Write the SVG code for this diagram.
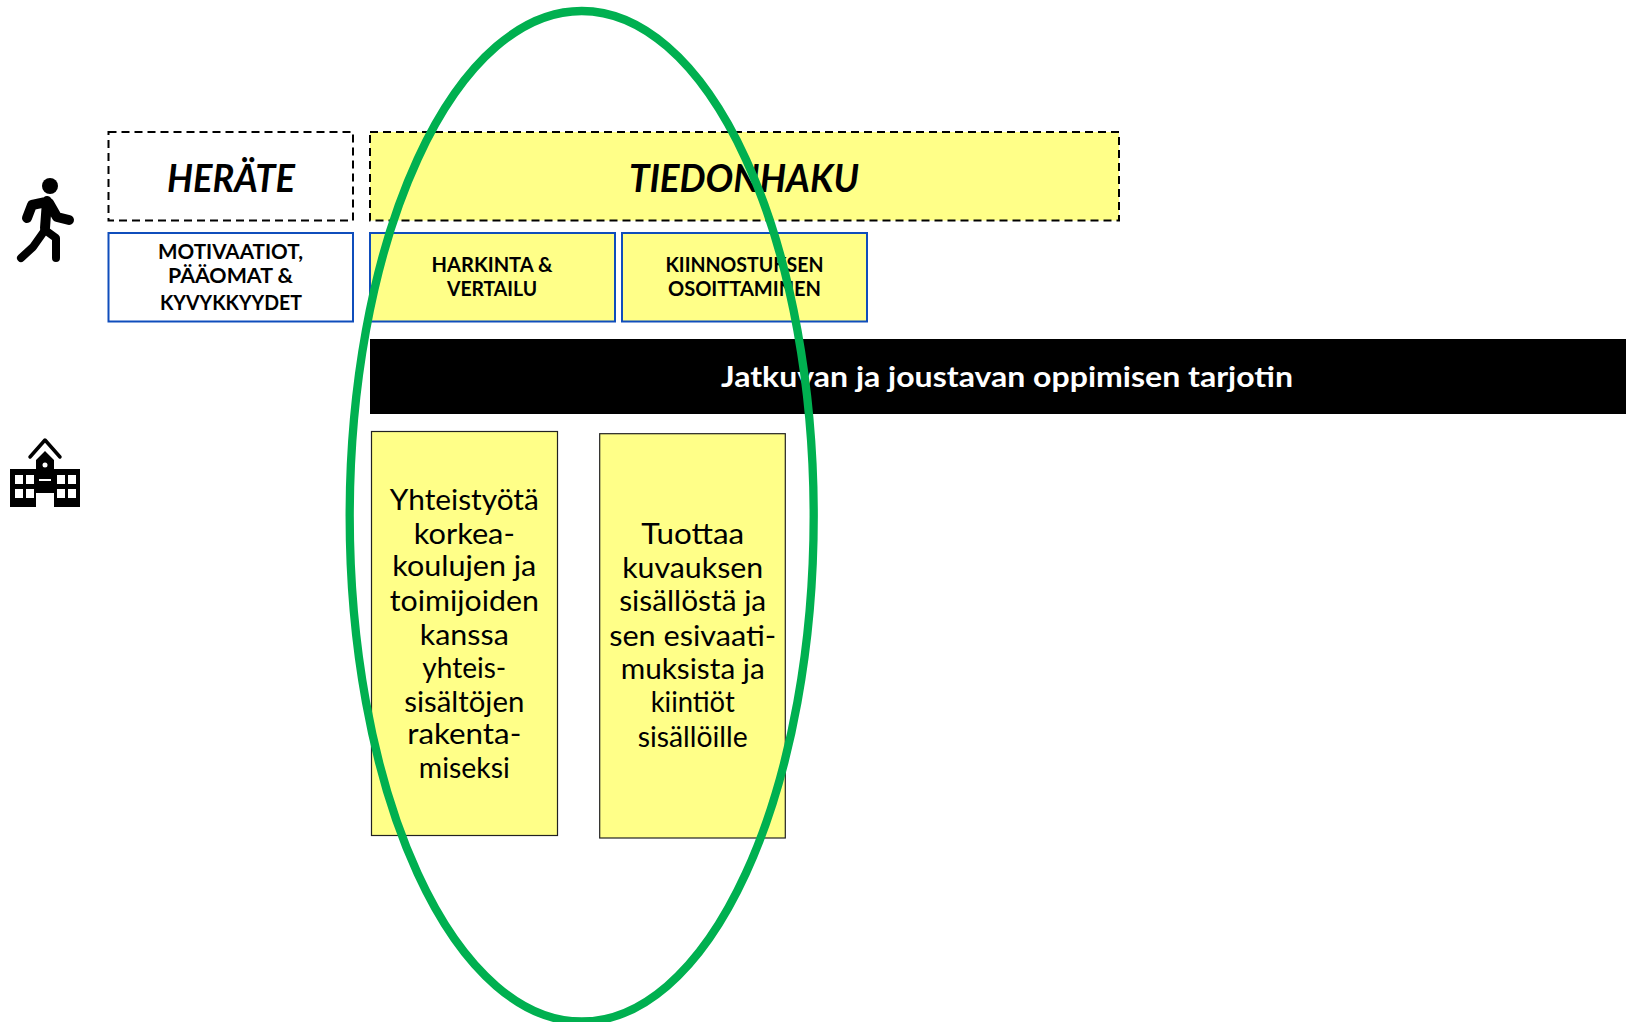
<svg xmlns="http://www.w3.org/2000/svg" width="1626" height="1022" viewBox="0 0 1626 1022">
<style>
text{font-family:Lato,"Open Sans","Liberation Sans",sans-serif;fill:#000;text-anchor:middle}
.y{fill:#FFFF88}
.dash{stroke:#000;stroke-width:2;stroke-dasharray:8 5}
.blue{stroke:#0F4DBC;stroke-width:2}
.note{stroke:#222;stroke-width:1.2}
.h{font-size:38px;font-weight:700;font-style:italic}
.s{font-size:21px;font-weight:700}
.b{font-size:29px}
.ico{fill:none;stroke:#000;stroke-linecap:round;stroke-linejoin:round}
</style>
<rect width="1626" height="1022" fill="#fff"/>
<g id="icon-person">
<circle cx="50" cy="186" r="8"/>
<path class="ico" stroke-width="10" d="M47 201L45 228M46 202L32 205L27 218M49 203L57 217L69 220"/>
<path class="ico" stroke-width="8" d="M45 230L33 247L21 258M45 230L56 238L56 258"/>
</g>
<g id="icon-school">
<path class="ico" stroke-width="3.5" d="M30 457L45 440L60 457"/>
<path d="M10 469H36V460L45 451L54 460V469H80V507H54V493H36V507H10Z"/>
<g fill="#fff">
<circle cx="45" cy="465" r="2.5"/>
<rect x="15" y="475" width="8" height="9"/><rect x="26" y="475" width="8" height="9"/>
<rect x="15" y="489" width="8" height="9"/><rect x="26" y="489" width="8" height="9"/>
<rect x="57" y="475" width="8" height="9"/><rect x="68" y="475" width="8" height="9"/>
<rect x="57" y="489" width="8" height="9"/><rect x="68" y="489" width="8" height="9"/>
<rect x="39" y="479" width="12" height="2"/>
</g>
</g>
<g id="herate">
<rect x="108.5" y="132" width="244.5" height="88.5" fill="#fff" class="dash"/>
<text class="h" x="231" y="192" textLength="128" lengthAdjust="spacingAndGlyphs">HERÄTE</text>
</g>
<g id="tiedonhaku">
<rect x="370" y="132" width="749" height="88.5" class="y dash"/>
<text class="h" x="744" y="192" textLength="230" lengthAdjust="spacingAndGlyphs">TIEDONHAKU</text>
</g>
<g id="motivaatiot">
<rect x="108.5" y="233" width="244.5" height="88.500" fill="#fff" class="blue"/>
<text class="s" x="230.500" y="259" textLength="145" lengthAdjust="spacingAndGlyphs">MOTIVAATIOT,</text>
<text class="s" x="230.500" y="283" textLength="125" lengthAdjust="spacingAndGlyphs">PÄÄOMAT &amp;</text>
<text class="s" x="231" y="310" textLength="142" lengthAdjust="spacingAndGlyphs">KYVYKKYYDET</text>
</g>
<g id="harkinta">
<rect x="370" y="233" width="245" height="88.500" class="y blue"/>
<text class="s" x="492" y="272" textLength="121" lengthAdjust="spacingAndGlyphs">HARKINTA &amp;</text>
<text class="s" x="492" y="296" textLength="90" lengthAdjust="spacingAndGlyphs">VERTAILU</text>
</g>
<g id="kiinnostuksen">
<rect x="622" y="233" width="245" height="88.500" class="y blue"/>
<text class="s" x="744.500" y="272" textLength="158" lengthAdjust="spacingAndGlyphs">KIINNOSTUKSEN</text>
<text class="s" x="744.500" y="296" textLength="153" lengthAdjust="spacingAndGlyphs">OSOITTAMINEN</text>
</g>
<g id="tarjotin">
<rect x="370" y="339" width="1256" height="75"/>
<text x="1007" y="387" font-size="28" font-weight="700" style="fill:#fff" textLength="572" lengthAdjust="spacingAndGlyphs">Jatkuvan ja joustavan oppimisen tarjotin</text>
</g>
<g id="note-yhteistyo">
<rect x="371.500" y="431.500" width="186" height="404" class="y note"/>
<text class="b" x="464.300" y="510" textLength="149" lengthAdjust="spacingAndGlyphs">Yhteistyötä</text>
<text class="b" x="464.300" y="544" textLength="101" lengthAdjust="spacingAndGlyphs">korkea-</text>
<text class="b" x="464.300" y="576" textLength="144" lengthAdjust="spacingAndGlyphs">koulujen ja</text>
<text class="b" x="464.300" y="611" textLength="149" lengthAdjust="spacingAndGlyphs">toimijoiden</text>
<text class="b" x="464.300" y="645" textLength="89" lengthAdjust="spacingAndGlyphs">kanssa</text>
<text class="b" x="464.300" y="678" textLength="84" lengthAdjust="spacingAndGlyphs">yhteis-</text>
<text class="b" x="464.300" y="712" textLength="120" lengthAdjust="spacingAndGlyphs">sisältöjen</text>
<text class="b" x="464.300" y="744" textLength="114" lengthAdjust="spacingAndGlyphs">rakenta-</text>
<text class="b" x="464.300" y="778" textLength="91" lengthAdjust="spacingAndGlyphs">miseksi</text>
</g>
<g id="note-tuottaa">
<rect x="599.700" y="433.700" width="185.600" height="404.300" class="y note"/>
<text class="b" x="692.700" y="544" textLength="103" lengthAdjust="spacingAndGlyphs">Tuottaa</text>
<text class="b" x="692.700" y="578" textLength="141" lengthAdjust="spacingAndGlyphs">kuvauksen</text>
<text class="b" x="692.700" y="611" textLength="147" lengthAdjust="spacingAndGlyphs">sisällöstä ja</text>
<text class="b" x="692.700" y="646" textLength="167" lengthAdjust="spacingAndGlyphs">sen esivaati-</text>
<text class="b" x="692.700" y="679" textLength="144" lengthAdjust="spacingAndGlyphs">muksista ja</text>
<text class="b" x="692.700" y="712" textLength="84" lengthAdjust="spacingAndGlyphs">kiintiöt</text>
<text class="b" x="692.700" y="747" textLength="110" lengthAdjust="spacingAndGlyphs">sisällöille</text>
</g>
<g id="highlight">
<ellipse cx="581.700" cy="516.250" rx="232" ry="505.250" fill="none" stroke="#00B050" stroke-width="8.300"/>
</g>
</svg>
